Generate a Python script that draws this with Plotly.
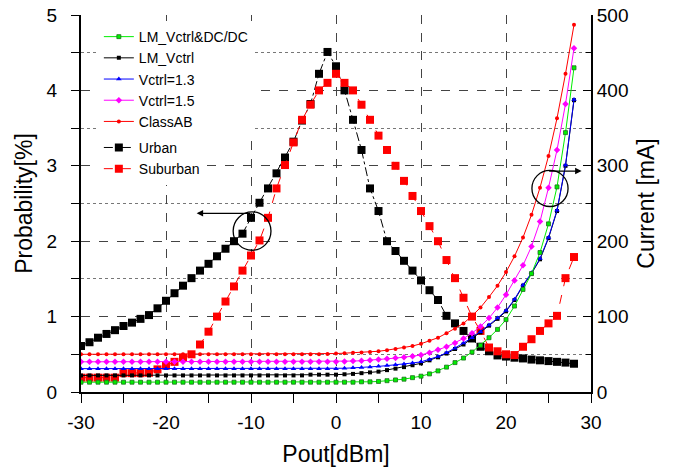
import plotly.graph_objects as go

pout = list(range(-30, 29))  # -30 ... 28 dBm, 1 dB steps
x_tickvals = [-30, -20, -10, 0, 10, 20, 30]
x_ticktext = ["-30", "-20", "-10", "0", "10", "20", "30"]

# Probability density (left axis, %)
urban = [0.61, 0.66, 0.72, 0.77, 0.82, 0.875, 0.92, 0.97, 1.02, 1.11,
         1.21, 1.31, 1.41, 1.51, 1.61, 1.70, 1.80, 1.90, 2.00, 2.10,
         2.31, 2.51, 2.70, 2.90, 3.11, 3.32, 3.60, 3.82, 4.22, 4.51,
         4.32, 4.00, 3.61, 3.21, 2.70, 2.40, 2.00, 1.87, 1.74, 1.61,
         1.48, 1.35, 1.22, 1.01, 0.91, 0.81, 0.71, 0.60, 0.54, 0.485,
         0.47, 0.455, 0.445, 0.43, 0.42, 0.41, 0.40, 0.39, 0.375]
suburban = [0.19, 0.19, 0.19, 0.19, 0.19, 0.25, 0.25, 0.25, 0.255, 0.30,
            0.35, 0.40, 0.455, 0.50, 0.63, 0.80, 1.00, 1.20, 1.40, 1.61,
            1.81, 2.01, 2.31, 2.70, 3.01, 3.31, 3.61, 3.81, 4.00, 4.10,
            4.22, 4.10, 4.00, 3.81, 3.61, 3.40, 3.21, 3.00, 2.80, 2.60,
            2.40, 2.20, 2.00, 1.75, 1.51, 1.25, 1.00, 0.81, 0.59, 0.54,
            0.50, 0.49, 0.60, 0.70, 0.81, 0.91, 1.01, 1.51, 1.79]

# Supply current (right axis, mA)
class_ab = [50, 50, 50, 50, 50, 50, 50, 50, 50, 50,
            50, 50, 50, 50, 50, 50, 50, 50, 50, 50,
            50, 50, 50, 50, 50, 50, 50, 50, 50, 50.5,
            51, 51.5, 52, 52.5, 53, 54, 55.5, 57, 59, 61,
            64, 68, 72, 78, 84, 91, 101, 112, 126, 141,
            159, 180, 205, 235, 271, 313, 363, 422, 487]
vctrl15 = [40, 40, 40, 40, 40, 40, 40, 40, 40, 40,
           40, 40, 40, 40, 40, 40, 40, 40, 40, 40,
           40, 40, 40, 40, 40, 40, 40, 40, 40, 40,
           40, 40.5, 41, 41.5, 42, 43, 44, 45, 46, 47.5,
           49, 52, 56, 60, 65, 71, 78, 87, 98, 112,
           129, 148, 168, 193, 226, 271, 321, 382, 456]
vctrl13 = [31, 31, 31, 31, 31, 31, 31, 31, 31, 31,
           31, 31, 31, 31, 31, 31, 31, 31, 31, 31,
           31, 31, 31, 31, 31, 31, 31, 31, 31, 31,
           31, 31.5, 32, 32.5, 33, 34, 35, 36, 37, 38.5,
           40, 43, 47, 52, 58, 65, 72, 80, 89, 98,
           108, 123, 142, 158, 177, 205, 241, 301, 388]
lm_vctrl = [22, 22, 22, 22, 22, 22, 22, 22, 22, 22,
            22, 22, 22, 22, 22, 22, 22, 22, 22, 22,
            22, 22, 22, 22, 22, 22, 22, 23, 23, 23,
            23, 23.5, 24, 25, 26, 27, 29, 31, 33, 35.5,
            38, 42, 46, 51, 57, 63, 71, 79, 88, 97,
            107, 122, 141, 157, 176, 204, 240, 300, 387]
lm_dcdc = [13, 13, 13, 13, 13, 13, 13, 13, 13, 13,
           13, 13, 13, 13, 13, 13, 13, 13, 13, 13,
           13, 13, 13, 13, 13, 13, 13, 13, 13, 13,
           13, 13, 13, 13.5, 13.5, 14, 15, 16, 17, 19,
           21, 24, 28, 33, 39, 45, 53, 62, 72, 83,
           96, 114, 136, 157, 185, 223, 272, 344, 430]

fig = go.Figure()

fig.add_trace(go.Scatter(
    x=pout, y=urban, name="Urban", mode="lines+markers", legend="legend2",
    line=dict(color="black", width=1, dash="dashdot"),
    marker=dict(symbol="square", size=8, color="black")))
fig.add_trace(go.Scatter(
    x=pout, y=suburban, name="Suburban", mode="lines+markers", legend="legend2",
    line=dict(color="red", width=1, dash="dash"),
    marker=dict(symbol="square", size=8, color="red")))

cur = [
    ("LM_Vctrl", lm_vctrl, "black", "square", 4, 2),
    ("Vctrl=1.3", vctrl13, "blue", "triangle-up", 5, 3),
    ("LM_Vctrl&DC/DC", lm_dcdc, "#00ee00", "square", 4, 1),
    ("Vctrl=1.5", vctrl15, "#ff00ff", "diamond", 5, 4),
    ("ClassAB", class_ab, "red", "circle", 4, 5),
]
for name, vals, col, sym, sz, rank in cur:
    mk = dict(symbol=sym, size=sz, color=col)
    if name == "LM_Vctrl&DC/DC":
        mk["line"] = dict(color="#207020", width=0.8)
    fig.add_trace(go.Scatter(
        x=pout, y=vals, name=name, mode="lines+markers", yaxis="y2",
        legend="legend", legendrank=rank,
        line=dict(color=col, width=1), marker=mk))

fig.add_shape(type="circle", xref="x", yref="y",
              x0=-12.1, x1=-7.65, y0=1.88, y1=2.39,
              line=dict(color="black", width=1.3))
fig.add_shape(type="circle", xref="x", yref="y2",
              x0=23.05, x1=27.3, y0=246, y1=294,
              line=dict(color="black", width=1.3))
fig.add_annotation(x=-16.4, y=2.37, ax=-9.9, ay=2.37, xref="x", yref="y",
                   axref="x", ayref="y", text="", showarrow=True,
                   arrowhead=2, arrowsize=1, arrowwidth=1.3, arrowcolor="black")
fig.add_annotation(x=28.9, y=293, ax=24.9, ay=293, xref="x", yref="y2",
                   axref="x", ayref="y2", text="", showarrow=True,
                   arrowhead=2, arrowsize=1, arrowwidth=1.3, arrowcolor="black")

FONT = "Liberation Sans, Arial, sans-serif"
fig.update_layout(
    width=675, height=467,
    margin=dict(l=81, r=84, t=15, b=75, autoexpand=False),
    paper_bgcolor="white", plot_bgcolor="white",
    font=dict(family=FONT, color="black"),
    xaxis=dict(range=[-30, 30], tickvals=x_tickvals, ticktext=x_ticktext,
               automargin=False,
               ticks="outside", ticklen=9, tickwidth=1.3, tickcolor="black",
               minor=dict(dtick=5, tick0=0, ticks="outside", ticklen=9, tickwidth=1.3,
                          tickcolor="black", showgrid=False),
               showline=True, linewidth=2, linecolor="black",
               showgrid=True, gridcolor="#444", griddash="dash", gridwidth=1,
               zeroline=False, tickfont=dict(size=19), ticklabelstandoff=3,
               title=dict(text="Pout[dBm]", font=dict(size=23), standoff=18)),
    xaxis2=dict(range=[-30, 30], overlaying="x", side="top", dtick=5,
                automargin=False,
                ticks="inside", ticklen=7, tickwidth=1.3, tickcolor="black",
                showticklabels=False, showline=True, linewidth=2,
                linecolor="black", showgrid=False, zeroline=False),
    yaxis=dict(range=[0, 5], dtick=1, ticks="outside", ticklen=8, tickwidth=1.3,
               tickcolor="black", automargin=False,
               minor=dict(dtick=0.5, ticks="outside", ticklen=8, tickwidth=1.3,
                          tickcolor="black", showgrid=True, gridcolor="#777",
                          griddash="dot", gridwidth=1),
               showline=True, linewidth=2, linecolor="black",
               showgrid=True, gridcolor="#444", griddash="dash", gridwidth=1,
               zeroline=False, tickfont=dict(size=19), ticklabelstandoff=10,
               title=dict(text="Probability[%]", font=dict(size=23), standoff=8)),
    yaxis2=dict(range=[0, 500], dtick=100, overlaying="y", side="right",
                automargin=False,
                ticks="inside", ticklen=8, tickwidth=1.3, tickcolor="black",
                minor=dict(dtick=50, ticks="inside", ticklen=5, tickwidth=1.3,
                           tickcolor="black"),
                showline=True, linewidth=2, linecolor="black", showgrid=False,
                zeroline=False, tickfont=dict(size=19),
                title=dict(text="Current [mA]", font=dict(size=23), standoff=10)),
    legend=dict(x=0.035, y=0.984, xanchor="left", yanchor="top",
                bgcolor="white", borderwidth=0, font=dict(size=14),
                tracegroupgap=0),
    legend2=dict(x=0.035, y=0.69, xanchor="left", yanchor="top",
                 bgcolor="white", borderwidth=0, font=dict(size=14),
                 tracegroupgap=0),
)

fig.write_html("out.html")
